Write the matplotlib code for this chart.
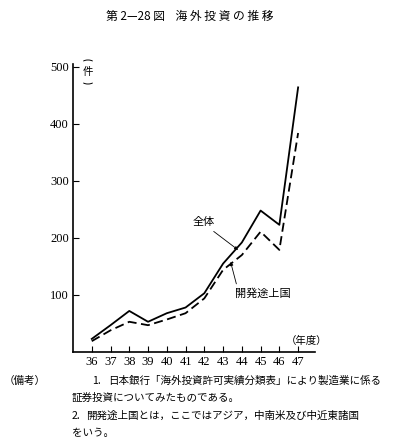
import matplotlib
matplotlib.use('Agg')
import matplotlib.pyplot as plt
from matplotlib.patches import Arc

plt.rcParams['font.family'] = 'serif'
plt.rcParams['font.serif'] = ['Liberation Serif', 'DejaVu Serif']
JP = ['Noto Sans CJK JP', 'DejaVu Sans']

# 年度 (昭和)
years = [36, 37, 38, 39, 40, 41, 42, 43, 44, 45, 46, 47]
total = [23, 47, 72, 53, 68, 78, 103, 155, 192, 248, 223, 464]      # 全体
developing = [19, 38, 53, 47, 57, 68, 94, 144, 170, 211, 179, 384]  # 開発途上国
yticks = [100, 200, 300, 400, 500]

W, H = 394, 440
fig = plt.figure(figsize=(W / 100, H / 100), dpi=100)
ax = fig.add_axes([73 / W, 88 / H, (315 - 73) / W, (376 - 88) / H])

ax.plot(years, total, color='black', lw=1.3)
ax.plot(years, developing, color='black', lw=1.3, ls=(0, (5, 2.5)))

ax.set_xlim(35, 47.9)
ax.set_ylim(0, 505)
ax.set_xticks(years)
ax.set_yticks(yticks)
ax.tick_params(direction='in', length=4, width=0.8, labelsize=9, pad=3)
for s in ['top', 'right']:
    ax.spines[s].set_visible(False)
for s in ['left', 'bottom']:
    ax.spines[s].set_linewidth(1.2)

# ラベル
ax.annotate('全体', xy=(43.8, 179), xytext=(41.95, 228), family=JP, fontsize=8,
            ha='center', va='center',
            arrowprops=dict(arrowstyle='-|>', lw=0.6, color='black',
                            mutation_scale=5, shrinkA=2, shrinkB=0,
                            relpos=(0.7, 0.0)))
ax.annotate('開発途上国', xy=(43.4, 158), xytext=(45.1, 103), family=JP, fontsize=8,
            ha='center', va='center',
            arrowprops=dict(arrowstyle='-|>', lw=0.6, color='black',
                            mutation_scale=5, shrinkA=1, shrinkB=0,
                            relpos=(0.05, 1.0)))

# 単位 (件) — 縦書きの括弧
fig.text(88 / W, 1 - 72 / H, '件', family=JP, fontsize=7.5,
         ha='center', va='center')
for yc, t1, t2 in [(63, 20, 160), (81, 200, 340)]:
    fig.add_artist(Arc((88 / W, 1 - yc / H), 12 / W, 6 / H, theta1=t1, theta2=t2,
                       transform=fig.transFigure, lw=0.7, color='black'))

fig.text(307 / W, 1 - 341 / H, '（年度）', family=JP, fontsize=7.5,
         ha='center', va='center')

fig.text(190 / W, 1 - 16 / H, '第 2—28 図    海 外 投 資 の 推 移', family=JP,
         fontsize=8.5, ha='center', va='center')

notes = [
    (4, 381, '（備考）'),
    (92, 381, '1.'),
    (108, 381, '日本銀行「海外投資許可実績分類表」により製造業に係る'),
    (72, 398, '証券投資についてみたものである。'),
    (72, 416, '2.'),
    (86, 416, '開発途上国とは，ここではアジア，中南米及び中近東諸国'),
    (72, 433, 'をいう。'),
]
for x, y, t in notes:
    fig.text(x / W, 1 - y / H, t, family=JP, fontsize=7.6, ha='left', va='center')

fig.savefig('out.png', dpi=100)
